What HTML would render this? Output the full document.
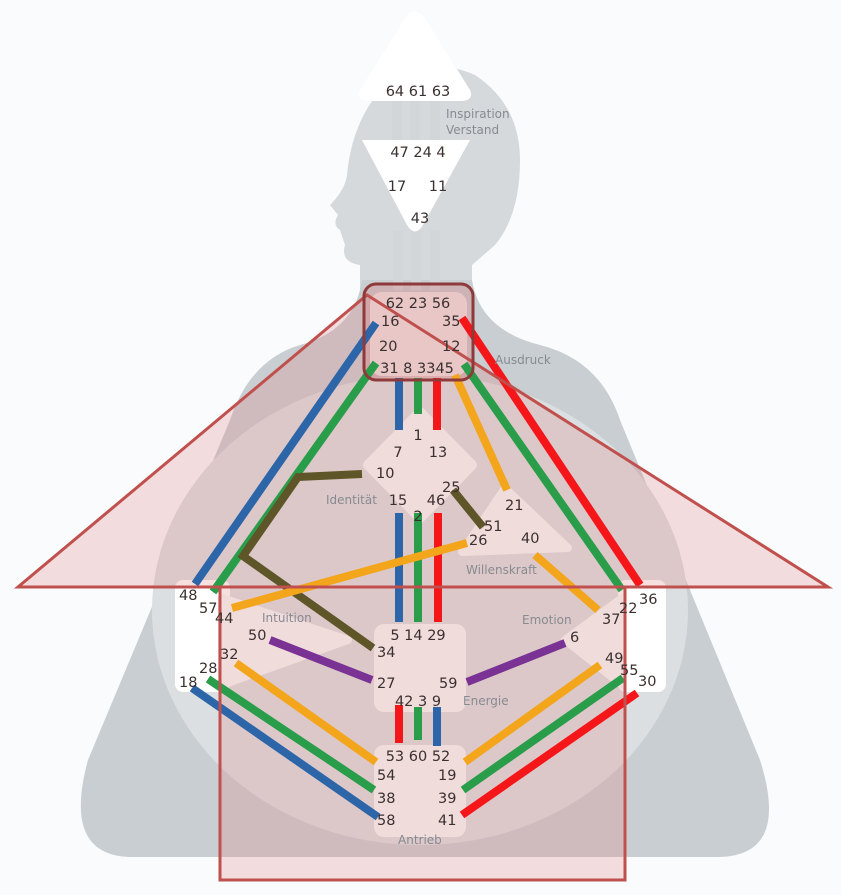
<!DOCTYPE html>
<html><head><meta charset="utf-8"><style>
html,body{margin:0;padding:0;background:#f9fbfc;}
svg{display:block;}
text{font-family:"DejaVu Sans","Liberation Sans",sans-serif;}
.n{font-size:14.5px;fill:#3b3030;}
.l{font-size:12px;fill:#868b92;}
</style></head><body>
<svg width="841" height="895" viewBox="0 0 841 895" xmlns="http://www.w3.org/2000/svg">
<rect width="841" height="895" fill="#f9fbfc"/>
<!-- head -->
<path d="M360,300 L360,265 Q340,262 345,245 L340,230 Q332,225 338,215 L330,205 Q345,190 347,175 Q352,120 385,85 Q430,55 475,75 Q520,105 520,160 Q520,215 495,245 L472,265 L472,300 Z" fill="#d6d9dc"/>
<!-- body -->
<path d="M362,280 L472,280 Q480,330 540,345 Q600,360 620,420 L760,760 Q790,855 720,857 L130,857 Q62,855 88,760 L230,420 Q250,360 300,345 Q355,330 362,280 Z" fill="#c8ced2"/>
<ellipse cx="420" cy="610" rx="268" ry="235" fill="#dcdfe1"/>
<g fill="#d3d6d9">
<rect x="392" y="100" width="10" height="40"/><rect x="410" y="100" width="10" height="40"/><rect x="430" y="100" width="10" height="40"/>
<rect x="393" y="230" width="10" height="60"/><rect x="411" y="230" width="10" height="60"/><rect x="430" y="230" width="10" height="60"/>
</g>
<g fill="#ffffff">
<path d="M405,18 Q415,5 425,18 L470,90 Q474,100 462,101 L368,101 Q356,100 360,90 Z"/>
<path d="M362,140 L470,140 L423,225 Q415,238 407,225 Z"/>
<rect x="175" y="580" width="55" height="112" rx="8"/>
<rect x="618" y="580" width="48" height="112" rx="8"/>
</g>
<!-- overlay fills -->
<path d="M367,295 L828,587 L18,587 Z" fill="rgba(225,140,140,0.28)"/>
<rect x="220" y="587" width="405" height="293" fill="rgba(225,140,140,0.28)"/>
<rect x="364" y="284" width="109" height="96" rx="12" fill="rgba(215,130,130,0.35)"/>
<!-- centers -->
<g fill="#f1dcdc">
<rect x="370" y="292" width="97" height="84" rx="12" fill="#e9c7c7"/>
<path d="M420,412 L472,465 L420,518 L368,465 Z" stroke="#f1dcdc" stroke-width="10" stroke-linejoin="round"/>
<path d="M505,488 L568,548 L462,552 Z" stroke="#f1dcdc" stroke-width="8" stroke-linejoin="round"/>
<path d="M222,598 L348,640 L222,685 Z" stroke="#f1dcdc" stroke-width="8" stroke-linejoin="round"/>
<path d="M622,598 L565,640 L622,685 Z" stroke="#f1dcdc" stroke-width="8" stroke-linejoin="round"/>
<rect x="374" y="624" width="92" height="88" rx="10"/>
<rect x="374" y="745" width="92" height="92" rx="10"/>
</g>
<!-- channels -->
<g stroke-width="8" fill="none">
<line x1="399" y1="378" x2="399" y2="430" stroke="#2d66a8"/>
<line x1="418" y1="378" x2="418" y2="414" stroke="#2a9d4a"/>
<line x1="437" y1="378" x2="437" y2="430" stroke="#f5161a"/>
<line x1="399" y1="513" x2="399" y2="622" stroke="#2d66a8"/>
<line x1="418" y1="513" x2="418" y2="622" stroke="#2a9d4a"/>
<line x1="438" y1="513" x2="438" y2="622" stroke="#f5161a"/>
<line x1="399" y1="705" x2="399" y2="743" stroke="#f5161a"/>
<line x1="418" y1="707" x2="418" y2="740" stroke="#2a9d4a"/>
<line x1="437" y1="707" x2="437" y2="746" stroke="#2d66a8"/>
<line x1="376" y1="323" x2="195" y2="584" stroke="#2d66a8"/>
<line x1="376" y1="363" x2="213" y2="592" stroke="#2a9d4a"/>
<line x1="462" y1="318" x2="640" y2="585" stroke="#f5161a"/>
<line x1="464" y1="364" x2="622" y2="590" stroke="#2a9d4a"/>
<line x1="455" y1="375" x2="507" y2="490" stroke="#f3a51b"/>
<polyline points="362,474 298,477 243,556 373,648" stroke="#5e5628"/>
<line x1="453" y1="490" x2="483" y2="527" stroke="#5e5628"/>
<line x1="467" y1="543" x2="232" y2="608" stroke="#f3a51b"/>
<line x1="535" y1="555" x2="598" y2="610" stroke="#f3a51b"/>
<line x1="270" y1="640" x2="372" y2="680" stroke="#7a3294"/>
<line x1="467" y1="682" x2="565" y2="643" stroke="#7a3294"/>
<line x1="236" y1="663" x2="376" y2="762" stroke="#f3a51b"/>
<line x1="208" y1="679" x2="374" y2="790" stroke="#2a9d4a"/>
<line x1="192" y1="688" x2="378" y2="817" stroke="#2d66a8"/>
<line x1="600" y1="665" x2="465" y2="762" stroke="#f3a51b"/>
<line x1="623" y1="678" x2="463" y2="790" stroke="#2a9d4a"/>
<line x1="637" y1="693" x2="462" y2="815" stroke="#f5161a"/>
</g>
<!-- overlay strokes -->
<path d="M367,295 L828,587 L18,587 Z" fill="none" stroke="#c0504d" stroke-width="3"/>
<rect x="220" y="587" width="405" height="293" fill="none" stroke="#c0504d" stroke-width="3"/>
<rect x="364" y="284" width="109" height="96" rx="12" fill="none" stroke="#8e3a3a" stroke-width="3"/>
<g class="n">
<text x="418" y="96" text-anchor="middle">64 61 63</text>
<text x="418" y="157" text-anchor="middle">47 24  4</text>
<text x="397" y="191" text-anchor="middle">17</text><text x="438" y="191" text-anchor="middle">11</text>
<text x="420" y="223" text-anchor="middle">43</text>
<text x="418" y="308" text-anchor="middle">62 23 56</text>
<text x="381" y="326">16</text><text x="442" y="326">35</text>
<text x="379" y="351">20</text><text x="442" y="351">12</text>
<text x="417" y="373" text-anchor="middle">31  8 3345</text>
<text x="418" y="440" text-anchor="middle">1</text>
<text x="398" y="457" text-anchor="middle">7</text><text x="438" y="457" text-anchor="middle">13</text>
<text x="376" y="478">10</text><text x="442" y="492">25</text>
<text x="398" y="505" text-anchor="middle">15</text><text x="436" y="505" text-anchor="middle">46</text>
<text x="418" y="521" text-anchor="middle">2</text>
<text x="505" y="510">21</text><text x="484" y="531">51</text><text x="469" y="545">26</text><text x="521" y="543">40</text>
<text x="179" y="600">48</text><text x="199" y="613">57</text><text x="215" y="623">44</text>
<text x="248" y="640">50</text><text x="220" y="659">32</text><text x="199" y="673">28</text><text x="179" y="687">18</text>
<text x="418" y="640" text-anchor="middle">5 14 29</text>
<text x="377" y="657">34</text><text x="377" y="688">27</text><text x="439" y="688">59</text>
<text x="418" y="706" text-anchor="middle">42  3  9</text>
<text x="602" y="624">37</text><text x="619" y="613">22</text><text x="639" y="604">36</text>
<text x="570" y="642">6</text><text x="605" y="663">49</text><text x="620" y="675">55</text><text x="638" y="686">30</text>
<text x="418" y="761" text-anchor="middle">53 60 52</text>
<text x="377" y="780">54</text><text x="438" y="780">19</text>
<text x="377" y="803">38</text><text x="438" y="803">39</text>
<text x="377" y="825">58</text><text x="438" y="825">41</text>
</g>
<g class="l">
<text x="446" y="118">Inspiration</text><text x="446" y="134">Verstand</text>
<text x="495" y="364">Ausdruck</text>
<text x="326" y="504">Identität</text>
<text x="466" y="574">Willenskraft</text>
<text x="262" y="622">Intuition</text>
<text x="522" y="624">Emotion</text>
<text x="463" y="705">Energie</text>
<text x="398" y="844">Antrieb</text>
</g>
</svg>
</body></html>
